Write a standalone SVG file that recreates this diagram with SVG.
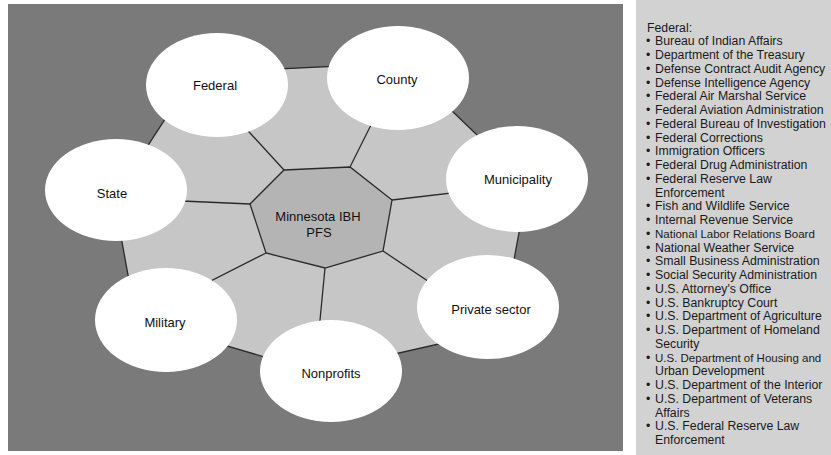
<svg xmlns="http://www.w3.org/2000/svg" width="831" height="455" viewBox="0 0 831 455">
<style>
.bg{fill:#7a7a7a}
.panel{fill:#d2d2d2}
.seg{fill:#c6c6c6;stroke:#2a2a2a;stroke-width:1.3}
.hub{fill:#b4b4b4;stroke:#2a2a2a;stroke-width:1.3}
.ln{stroke:#2a2a2a;stroke-width:1.3;fill:none}
.node{fill:#ffffff}
.lbl{font-family:"Liberation Sans",Arial,sans-serif;font-size:13px;fill:#111;text-anchor:middle}
.lst{font-family:"Liberation Sans",Arial,sans-serif;font-size:12.3px;fill:#1a1a1a}
.sm{font-size:11.5px}
</style>
<rect class="bg" x="8" y="4" width="615" height="447"/>
<rect class="panel" x="636" y="0" width="195" height="455"/>
<g id="ring">
<polygon class="seg" points="195,73 402,63 528,184 501,330 315,372 136,319 114,198"/>
</g>
<g id="connectors">
<line class="ln" x1="284" y1="170" x2="195" y2="73"/>
<line class="ln" x1="350" y1="167" x2="402" y2="63"/>
<line class="ln" x1="392" y1="200" x2="528" y2="184"/>
<line class="ln" x1="383" y1="251" x2="501" y2="330"/>
<line class="ln" x1="325" y1="268" x2="315" y2="372"/>
<line class="ln" x1="266" y1="253" x2="136" y2="319"/>
<line class="ln" x1="250" y1="204" x2="114" y2="198"/>
</g>
<g id="node-center">
<polygon class="hub" points="284,170 350,167 392,200 383,251 325,268 266,253 250,204"/>
<text class="lbl" x="318" y="221">Minnesota IBH</text>
<text class="lbl" x="319" y="237">PFS</text>
</g>
<g id="node-federal"><ellipse class="node" cx="217" cy="85" rx="71" ry="52"/><text class="lbl" x="215" y="90">Federal</text></g>
<g id="node-county"><ellipse class="node" cx="398" cy="78" rx="71" ry="52"/><text class="lbl" x="397" y="84">County</text></g>
<g id="node-municipality"><ellipse class="node" cx="517" cy="179" rx="71" ry="53"/><text class="lbl" x="518" y="184">Municipality</text></g>
<g id="node-private"><ellipse class="node" cx="488" cy="307" rx="71" ry="52"/><text class="lbl" x="491" y="314">Private sector</text></g>
<g id="node-nonprofits"><ellipse class="node" cx="331" cy="371" rx="71" ry="51"/><text class="lbl" x="331" y="378">Nonprofits</text></g>
<g id="node-military"><ellipse class="node" cx="166" cy="320" rx="71" ry="52"/><text class="lbl" x="165" y="327">Military</text></g>
<g id="node-state"><ellipse class="node" cx="116" cy="190" rx="71" ry="51"/><text class="lbl" x="112" y="198">State</text></g>
<g id="federal-list" class="lst">
<text x="647" y="31.5">Federal:</text>
<text x="646" y="45.25">•</text><text x="655" y="45.25">Bureau of Indian Affairs</text>
<text x="646" y="59">•</text><text x="655" y="59">Department of the Treasury</text>
<text x="646" y="72.75">•</text><text x="655" y="72.75">Defense Contract Audit Agency</text>
<text x="646" y="86.5">•</text><text x="655" y="86.5">Defense Intelligence Agency</text>
<text x="646" y="100.25">•</text><text x="655" y="100.25">Federal Air Marshal Service</text>
<text x="646" y="114">•</text><text x="655" y="114">Federal Aviation Administration</text>
<text x="646" y="127.75">•</text><text x="655" y="127.75">Federal Bureau of Investigation</text>
<text x="646" y="141.5">•</text><text x="655" y="141.5">Federal Corrections</text>
<text x="646" y="155.25">•</text><text x="655" y="155.25">Immigration Officers</text>
<text x="646" y="169">•</text><text x="655" y="169">Federal Drug Administration</text>
<text x="646" y="182.75">•</text><text x="655" y="182.75">Federal Reserve Law</text>
<text x="655" y="196.5">Enforcement</text>
<text x="646" y="210.25">•</text><text x="655" y="210.25">Fish and Wildlife Service</text>
<text x="646" y="224">•</text><text x="655" y="224">Internal Revenue Service</text>
<text x="646" y="237.75">•</text><text x="655" y="237.75" class="sm">National Labor Relations Board</text>
<text x="646" y="251.5">•</text><text x="655" y="251.5">National Weather Service</text>
<text x="646" y="265.25">•</text><text x="655" y="265.25">Small Business Administration</text>
<text x="646" y="279">•</text><text x="655" y="279">Social Security Administration</text>
<text x="646" y="292.75">•</text><text x="655" y="292.75">U.S. Attorney's Office</text>
<text x="646" y="306.5">•</text><text x="655" y="306.5">U.S. Bankruptcy Court</text>
<text x="646" y="320.25">•</text><text x="655" y="320.25">U.S. Department of Agriculture</text>
<text x="646" y="334">•</text><text x="655" y="334">U.S. Department of Homeland</text>
<text x="655" y="347.75">Security</text>
<text x="646" y="361.5">•</text><text x="655" y="361.5" class="sm">U.S. Department of Housing and</text>
<text x="655" y="375.25">Urban Development</text>
<text x="646" y="389">•</text><text x="655" y="389">U.S. Department of the Interior</text>
<text x="646" y="402.75">•</text><text x="655" y="402.75">U.S. Department of Veterans</text>
<text x="655" y="416.5">Affairs</text>
<text x="646" y="430.25">•</text><text x="655" y="430.25">U.S. Federal Reserve Law</text>
<text x="655" y="444">Enforcement</text>
</g>
</svg>
